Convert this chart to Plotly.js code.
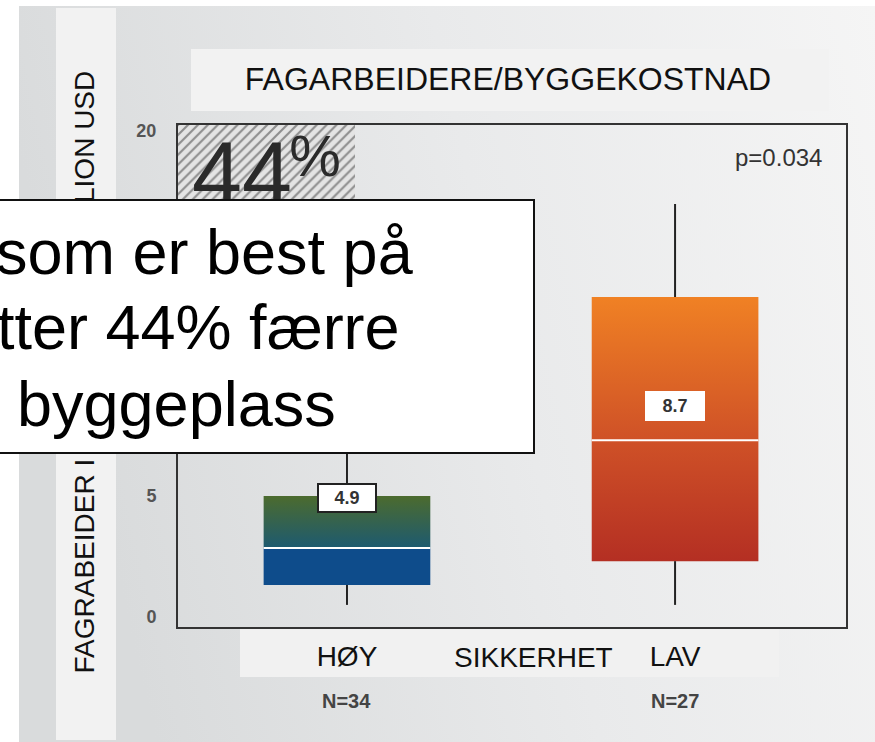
<!DOCTYPE html>
<html><head><meta charset="utf-8">
<script src="https://cdn.plot.ly/plotly-3.0.1.min.js"></script>
<style>html,body{margin:0;padding:0;background:#fff}#chart{width:875px;height:742px}</style>
</head><body><div id="chart"></div>
<script>
// ---- data ----
const categories = ["HØY", "LAV"];
const sampleSizes = [34, 27];
const lowerWhisker = [0.5, 0.5];
const q1 = [1.32, 2.3];
const median = [2.84, 7.28];
const q3 = [4.98, 13.17];
const upperWhisker = [10.0, 17.0];
const means = [4.9, 8.7];
const yTicks = [0, 5, 10, 15, 20];
const chartTitle = "FAGARBEIDERE/BYGGEKOSTNAD";
const xAxisLabel = "SIKKERHET";
const yTitleLower = "FAGRABEIDER I";
const yTitleUpper = "LION USD";
const pValueText = "p=0.034";
const overlayLines = ["som er best på", "tter 44% færre", "byggeplass"];

// ---- layout geometry (pixels) ----
const W = 875, H = 742;
const M = {l: 178, r: 29, t: 125, b: 115};
const PW = W - M.l - M.r, PH = H - M.t - M.b;
const xRange = [-0.515, 1.521];
const yRange = [-0.41, 20.25];
const px = p => (p - M.l) / PW;            // pixel x -> paper
const py = p => (H - M.b - p) / PH;        // pixel y -> paper
const dx = p => xRange[0] + (p - M.l) / PW * (xRange[1] - xRange[0]);  // pixel x -> x data
const dy = p => yRange[0] + (H - M.b - p) / PH * (yRange[1] - yRange[0]);

const FONT = "Liberation Sans, Arial, sans-serif";
const NARROW = "Liberation Sans Narrow, Arial Narrow, Liberation Sans, sans-serif";
const halfW = 0.254;

const traces = [];

// hatched decoration block behind the 44%
traces.push({
  type: 'scatter', mode: 'lines', hoverinfo: 'skip', showlegend: false,
  x: [xRange[0], dx(355), dx(355), xRange[0], xRange[0]],
  y: [15, 15, yRange[1], yRange[1], 15],
  fill: 'toself', fillcolor: '#e2e2e2', line: {width: 0},
  fillpattern: {shape: '/', bgcolor: '#e4e4e4', fgcolor: '#8e8e8e', size: 7, solidity: 0.3}
});

// box bodies with gradients
const gradients = [
  (i) => { const f = (median[i] - q1[i]) / (q3[i] - q1[i]);
    return [[0, '#0e4c8b'], [f, '#0e4c8b'], [f + 0.002, '#1d5a70'], [1, '#4c6b2e']]; },
  (i) => { const f = (median[i] - q1[i]) / (q3[i] - q1[i]);
    return [[0, '#b42f23'], [f, '#cf5127'], [1, '#f08124']]; }
];
categories.forEach((c, i) => {
  traces.push({
    type: 'scatter', mode: 'lines', hoverinfo: 'skip', showlegend: false,
    x: [i - halfW, i + halfW, i + halfW, i - halfW, i - halfW],
    y: [q1[i], q1[i], q3[i], q3[i], q1[i]],
    fill: 'toself', line: {width: 0},
    fillgradient: {type: 'vertical', colorscale: gradients[i](i)}
  });
});

// whiskers
const wx = [], wy = [];
categories.forEach((c, i) => {
  wx.push(i, i, null, i, i, null);
  wy.push(lowerWhisker[i], q1[i], null, q3[i], upperWhisker[i], null);
});
traces.push({type: 'scatter', mode: 'lines', x: wx, y: wy, hoverinfo: 'skip', showlegend: false,
  line: {color: '#222', width: 2}});

// medians
const mx = [], my = [];
categories.forEach((c, i) => { mx.push(i - halfW, i + halfW, null); my.push(median[i], median[i], null); });
traces.push({type: 'scatter', mode: 'lines', x: mx, y: my, hoverinfo: 'skip', showlegend: false,
  line: {color: '#ffffff', width: 2}});

// 44% big label (reduction of mean)
const reduction = Math.round((1 - means[0] / means[1]) * 100);
traces.push({type: 'scatter', mode: 'text', x: [dx(242)], y: [dy(182)], text: [String(reduction)],
  textposition: 'middle center', hoverinfo: 'skip', showlegend: false, cliponaxis: false,
  textfont: {family: FONT, size: 90, color: '#2a2a2a'}});
traces.push({type: 'scatter', mode: 'text', x: [dx(315)], y: [dy(161)], text: ['%'],
  textposition: 'middle center', hoverinfo: 'skip', showlegend: false, cliponaxis: false,
  textfont: {family: FONT, size: 58, color: '#2a2a2a'}});

// ---- annotations ----
const annotations = [];
const A = (o) => Object.assign({showarrow: false, xanchor: 'center', yanchor: 'middle'}, o);
categories.forEach((c, i) => {
  annotations.push(A({xref: 'x', yref: 'y', x: i, y: means[i], text: means[i].toFixed(1),
    font: {family: NARROW, size: 18, color: '#333', weight: 'bold'},
    bgcolor: '#ffffff', bordercolor: i === 0 ? '#222' : '#ffffff', borderwidth: 2, borderpad: 2,
    width: 52, height: 22}));
  annotations.push(A({xref: 'x', yref: 'paper', x: i, y: py(701), text: 'N=' + sampleSizes[i],
    font: {family: NARROW, size: 20, color: '#444', weight: 'bold'}}));
});
annotations.push(A({xref: 'paper', yref: 'paper', x: px(533), y: py(657), text: xAxisLabel,
  font: {family: FONT, size: 28, color: '#111'}}));
annotations.push(A({xref: 'paper', yref: 'paper', x: px(778), y: py(157), text: pValueText,
  font: {family: FONT, size: 24, color: '#333'}}));
annotations.push(A({xref: 'paper', yref: 'paper', x: px(84), y: py(566.5), text: yTitleLower,
  textangle: -90, font: {family: FONT, size: 28, color: '#111'}}));
annotations.push(A({xref: 'paper', yref: 'paper', x: px(84), y: py(137), text: yTitleUpper,
  textangle: -90, font: {family: FONT, size: 28, color: '#111'}}));
const lineEnds = [416, 402, 338];
const lineMids = [251.5, 327, 404];
overlayLines.forEach((t, k) => {
  annotations.push(A({xref: 'paper', yref: 'paper', x: px(lineEnds[k]), y: py(lineMids[k]), xanchor: 'right',
    text: t, font: {family: FONT, size: 63, color: '#000'}}));
});

// ---- background ----
const bgSvg = "<svg xmlns='http://www.w3.org/2000/svg' width='875' height='742'>" +
  "<defs><linearGradient id='g' x1='0' y1='0.2' x2='1' y2='0'>" +
  "<stop offset='0' stop-color='#d9dbdc'/><stop offset='0.5' stop-color='#e9eaeb'/><stop offset='1' stop-color='#f5f5f5'/></linearGradient></defs>" +
  "<rect x='19' y='6' width='856' height='736' fill='url(#g)'/>" +
  "<rect x='56' y='8' width='60' height='732' fill='#f2f2f2'/>" +
  "<rect x='191' y='49' width='638' height='62' fill='#f2f2f2'/>" +
  "<rect x='240' y='628' width='539' height='49' fill='#f1f1f1'/>" +
  "</svg>";

const layout = {
  width: W, height: H, margin: M, showlegend: false,
  paper_bgcolor: '#ffffff', plot_bgcolor: 'rgba(0,0,0,0)',
  title: {text: chartTitle, font: {family: FONT, size: 32, color: '#111'},
    x: 508 / W, xanchor: 'center', y: 1 - 79 / H, yanchor: 'middle', xref: 'container', yref: 'container'},
  xaxis: {range: xRange, tickvals: categories.map((c, i) => i), ticktext: categories, ticks: '',
    showline: true, mirror: true, linecolor: '#333', linewidth: 2, showgrid: false, zeroline: false,
    tickfont: {family: FONT, size: 28, color: '#111'}, ticklabelstandoff: 3, fixedrange: true},
  yaxis: {range: yRange, tickvals: yTicks, ticks: '',
    showline: true, mirror: true, linecolor: '#333', linewidth: 2, showgrid: false, zeroline: false,
    tickfont: {family: NARROW, size: 18, color: '#555', weight: 'bold'}, ticklabelstandoff: 16, fixedrange: true},
  images: [{source: 'data:image/svg+xml;charset=utf-8,' + encodeURIComponent(bgSvg),
    xref: 'paper', yref: 'paper', x: px(0), y: py(0), sizex: W / PW, sizey: H / PH,
    xanchor: 'left', yanchor: 'top', sizing: 'stretch', layer: 'below'}],
  shapes: [{type: 'rect', xref: 'paper', yref: 'paper', x0: px(-20), x1: px(534), y0: py(453), y1: py(200),
    fillcolor: '#ffffff', line: {color: '#111', width: 2}, layer: 'above'}],
  annotations: annotations
};

Plotly.newPlot('chart', traces, layout, {displayModeBar: false, staticPlot: true});
</script>
</body></html>
